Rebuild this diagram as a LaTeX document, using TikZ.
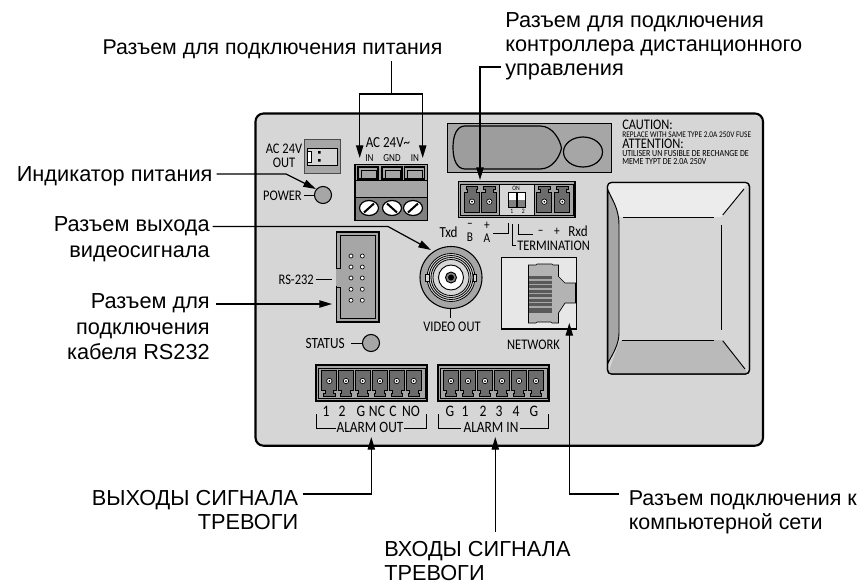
\documentclass[tikz,border=0pt]{standalone}
\usepackage{fontspec}
\setmainfont{Liberation Sans}
\newfontfamily\panelfont[FakeStretch=0.85]{Carlito}
\usetikzlibrary{arrows.meta,calc}
\definecolor{panel}{gray}{0.84}
\definecolor{midg}{gray}{0.65}
\definecolor{darkg}{gray}{0.5}
\tikzset{
  lbl/.style={font=\fontsize{16.3}{18}\selectfont, inner sep=0pt, align=left, text=black},
  lblr/.style={lbl, align=right},
  pt/.style={font=\panelfont\fontsize{#1}{#1}\selectfont, inner sep=0pt, text=black},
  pt/.default=11,
  conn/.style={line width=0.9pt, -{Triangle[length=9.5pt,width=5.5pt]}},
  plain/.style={line width=0.9pt},
}
% #1 x, #2 y of the pin's hole, #3 = 1 foot down, -1 foot up
\newcommand{\pinshape}[3]{%
  \begin{scope}[shift={(#1,#2)}]
    \fill[gray!115,draw=black,line width=0.7pt,yscale=#3] (-7.5,-10.7) -- (7.5,-10.7) -- (7.5,9) -- (4.3,9) -- (4.3,12.7) -- (5.7,12.7) -- (5.7,15.5) -- (-5.7,15.5) -- (-5.7,12.7) -- (-4.3,12.7) -- (-4.3,9) -- (-7.5,9) -- cycle;
    \fill[white,draw=black,line width=0.5pt] (0,0) circle (2.7);
    \fill[black] (0,0) circle (1);
  \end{scope}}
\newcommand{\screw}[3]{%
  \begin{scope}[shift={(#1,#2)}]
    \fill[white,draw=black,line width=0.9pt] (0,0) ellipse (9.5 and 7.5);
    \draw[line width=1.5pt] (-#3*5,4.5) -- (#3*5,-4.5);
  \end{scope}}
\begin{document}
\begin{tikzpicture}[x=0.75pt,y=-0.75pt]
\useasboundingbox (0,0) rectangle (861,586);
\fill[white] (0,0) rectangle (861,586);
% panel
\draw[fill=panel,line width=1.6pt,rounded corners=6pt] (255.5,113.5) rectangle (763,445.7);
% AC out
\draw[fill=midg,line width=0.5pt,draw=black!70] (304,139) rectangle (340,173);
\draw[fill=panel,line width=0.7pt] (307.5,148) rectangle (337,165);
\draw[fill=white,line width=0.5pt] (307.5,151) rectangle (311,162);
\fill (318,151) rectangle (320.5,153.5) (318,159) rectangle (320.5,161.5);
\node[pt=11,align=center] (acout) at (284,156) {AC 24V\\[-.5pt]OUT};
% power led
\node[circle,draw,fill=midg,line width=0.8pt,minimum size=12.8pt,inner sep=0pt] (pled) at (323,195) {};
\node[pt=11,anchor=east] (powt) at (302,195.5) {POWER};
\draw[line width=0.7pt] (304,195) -- (pled);
% terminal block
\draw[fill=midg,line width=1.3pt] (355,164.5) rectangle (427.5,220);
\fill[darkg] (355.5,197) rectangle (427,219.5);
\foreach \x in {368,392,414.5}{
  \draw[fill=midg,line width=.9pt] (\x-10,167) rectangle (\x+10,179);
  \draw[fill=darkg!70,line width=0.5pt] (\x-7,170) rectangle (\x+8,178.5);
}
\draw[line width=.7pt] (356,180) -- (427,180);
\draw[line width=.7pt] (356,197) -- (427,197);
\screw{369}{208}{1}\screw{392}{208}{-1}\screw{413}{208}{1}
\node[pt=11.5] (ac24) at (388,143) {AC 24V\textasciitilde};
\node[pt=8] (tin1) at (369.5,158) {IN};
\node[pt=8] (tgnd) at (392,158) {GND};
\node[pt=8] (tin2) at (415,158) {IN};
% fuse
\draw[fill=midg,line width=.6pt] (447.5,123) rectangle (611,172);
\draw[fill=midg!95!black,line width=.9pt] (465,126) -- (540,126) .. controls (553,126) and (560,140) .. (561.5,148) .. controls (560,156) and (553,169) .. (540,169) -- (465,169) .. controls (457,169) and (453,160) .. (453,147.5) .. controls (453,135) and (457,126) .. (465,126) -- cycle;
\draw[line width=.9pt] (583,152) ellipse (19.5 and 15);
% caution
\node[pt=11,anchor=west] (cau) at (622,125) {CAUTION:};
\node[pt=6.5,anchor=west] (cau2) at (622,135) {REPLACE WITH SAME TYPE 2.0A 250V FUSE};
\node[pt=11,anchor=west] (att) at (622,144) {ATTENTION:};
\node[pt=7,anchor=west] (att2) at (622,153.5) {UTILISER UN FUSIBLE DE RECHANGE DE};
\node[pt=7,anchor=west] (att3) at (622,162) {MEME TYPT DE 2.0A 250V};
% comm connector
\draw[fill=midg,line width=.8pt] (458.3,181.7) rectangle (575,217.3);
\draw[fill=panel,line width=.6pt] (499,184.7) rectangle (534.3,215);
\draw[line width=.7pt] (460.7,184.7) rectangle (573.3,215);
\pinshape{472}{201.7}{-1}\pinshape{489.3}{201.7}{-1}\pinshape{544.3}{201.7}{-1}\pinshape{562.3}{201.7}{-1}
\fill[white] (508.3,192) rectangle (516,200) (517,192) rectangle (525.7,200);
\fill[darkg] (508.3,200) rectangle (516,207) (517,200) rectangle (525.7,207);
\draw[line width=.4pt] (508.3,192) rectangle (516,207) (517,192) rectangle (525.7,207);
\node[pt=5] at (516,188) {ON};
\node[pt=5] at (511.7,211) {1};
\node[pt=5] at (523.3,211) {2};
% comm labels
\node[pt=11.5] (txd) at (448.5,232) {Txd};
\node[pt=10] (bl) at (470,237) {B};
\node[pt=10] (al) at (487,238) {A};
\node[pt=10] at (470,225) {–};
\node[pt=10] at (487,226) {+};
\draw[line width=.7pt] (493,233) -- (508,233) -- (508,223);
\draw[line width=.7pt] (512.7,224) -- (512.7,245) -- (516,245);
\draw[line width=.7pt] (518.7,224) -- (518.7,234) -- (533,234);
\node[pt=10] at (540.7,232) {–};
\node[pt=10] at (557,232) {+};
\node[pt=11.5] (rxd) at (578,231.5) {Rxd};
\node[pt=11,anchor=west] (term) at (517,245.5) {TERMINATION};
% bnc
\node[circle,draw,fill=midg,line width=.8pt,minimum size=46.5pt,inner sep=0pt] (bnc) at (451,277.5) {};
\draw[fill=panel,line width=.6pt] (451,277.5) circle (24);
\draw[line width=.6pt] (451,277.5) circle (22);
\draw[line width=.6pt] (451,277.5) circle (20);
\draw[fill=panel,line width=.6pt] (451,277.5) circle (18);
\draw[fill=white,line width=.7pt] (451,277.5) circle (12.5);
\draw[fill=darkg,line width=.7pt] (451,277.5) circle (5.5);
\fill (451,277.5) circle (3);
\draw[fill=panel,line width=.5pt] (425.5,274.5) rectangle (429,281);
\draw[fill=panel,line width=.5pt] (473,274.5) rectangle (476.5,281);
\draw[line width=.7pt] (450.5,309) -- (450.5,318);
\node[pt=11] (vout) at (452,327) {VIDEO OUT};
% network
\draw[fill=panel!60!white,line width=.9pt] (501.5,257.5) rectangle (576.5,329);
\draw[fill=midg!85!white,line width=.5pt] (528.5,265) -- (536,265) -- (537,264) -- (552,264) -- (553,265) -- (558.5,265) -- (558.5,276.5) -- (565,283) -- (575.5,283) -- (575.5,303) -- (565,303) -- (558.5,313) -- (558.5,323) -- (552,323) -- (551,322) -- (537,322) -- (536,323) -- (528.5,323) -- cycle;
\fill[darkg!70!black] (529,276) rectangle (552,313);
\foreach \y in {280,284.5,289,293.5,298,302.5,307}{\draw[midg,line width=.8pt] (529,\y) -- (552,\y);}
\node[pt=11] (netw) at (533.5,345) {NETWORK};
% rs232
\fill[midg] (336.7,232) rectangle (379,322);
\draw[line width=1pt] (336.7,232) rectangle (379,322);
\draw[line width=.7pt] (336.7,268) -- (340.7,268) -- (340.7,235) -- (375.5,235) -- (375.5,318) -- (340.7,318) -- (340.7,287) -- (336.7,287);
\draw[draw=midg,line width=1.3pt] (336.7,269) -- (336.7,286);
\foreach \y in {256,267,278,289.3,300.3}{\foreach \x in {351,362.3}{\draw[fill=white,line width=.5pt] (\x,\y) circle (2);}}
\coordinate (rsin) at (332,304);
\node[pt=11,anchor=east] (rst) at (314,280) {RS-232};
\draw[line width=.7pt] (316,279.5) -- (332,279.5);
% status
\node[circle,draw,fill=midg,line width=.8pt,minimum size=12.8pt,inner sep=0pt] (sled) at (371,343) {};
\node[pt=11.7,anchor=east] (stat) at (345,343) {STATUS};
\draw[line width=.7pt] (351,343) -- (sled);
% alarm blocks
\foreach \a/\b in {316/427,438/549}{
 \draw[fill=midg,line width=.9pt] (\a,365) rectangle (\b,401);
 \draw[line width=.5pt] (\a+2,368) rectangle (\b-2,398);
}
\foreach \x in {329.3,346,362.7,380,396.7,413.7,451,468,485,502,519,536}{\pinshape{\x}{381}{1}}
\foreach \x/\t in {326/1,342/2,361/G,377/NC,393/C,411/NO,450/G,465/1,483/2,499/3,516/4,534/G}{\node[pt=12] at (\x,411) {\t};}
\draw[line width=.7pt] (316.5,414) -- (316.5,428) -- (336,428);
\draw[line width=.7pt] (404,428) -- (426.5,428) -- (426.5,414);
\draw[line width=.7pt] (438.5,414) -- (438.5,428) -- (461,428);
\draw[line width=.7pt] (520,428) -- (548.5,428) -- (548.5,414);
\node[pt=11.8] (aout) at (370,427.5) {ALARM OUT};
\node[pt=11.8] (ain) at (491,427.5) {ALARM IN};
% fan
\draw[fill=panel,line width=.9pt,rounded corners=3pt] (607.5,182.5) rectangle (749.5,374);
\fill[gray!15,rounded corners=2pt] (608,183) -- (749,183) -- (745,186) -- (722,217) -- (619,217) -- (608,195) -- cycle;
\fill[gray!54,rounded corners=2pt] (608,373.5) -- (620,340) -- (722,340) -- (748,373.5) -- cycle;
\filldraw[fill=midg,draw=black,line width=.7pt] (608,190) .. controls (612,200) and (619,208) .. (619,225) -- (619,333) .. controls (619,345) and (612,355) .. (608,363) -- cycle;
\draw[line width=.9pt,rounded corners=3pt] (607.5,182.5) rectangle (749.5,374);
\draw[line width=.7pt] (623,217.5) -- (714,217.5);
\draw[line width=.7pt] (622,340) -- (714,340);
\draw[line width=.7pt] (721.7,225) -- (721.7,330);
\draw[line width=.7pt] (722.7,215) -- (744,189);
\draw[line width=.7pt] (722.7,340.7) -- (745,369);
% labels
\node[lbl,font=\fontsize{16}{18}\selectfont,anchor=center] (lpow) at (272.5,49) {Разъем для подключения питания};
\node[lbl,anchor=north west] (lrem) at (505,12) {Разъем для подключения\\контроллера дистанционного\\управления};
\node[lbl,anchor=base east] (lled) at (212.7,181.7) {Индикатор питания};
\node[lblr,anchor=north east] (lvid) at (210,216.7) {Разъем выхода\\[1pt]видеосигнала};
\node[lblr,anchor=north east] (lrs) at (210,293) {Разъем для\\[1.4pt]подключения\\[1.4pt]кабеля RS232};
\node[lblr,anchor=north east] (lao) at (298.5,490) {ВЫХОДЫ СИГНАЛА\\ТРЕВОГИ};
\node[lbl,anchor=north west] (lai) at (384,541.5) {ВХОДЫ СИГНАЛА\\ТРЕВОГИ};
\node[lbl,font=\fontsize{16.1}{18}\selectfont,anchor=north west] (lnet) at (628.5,490) {Разъем подключения к\\компьютерной сети};
% connectors
\coordinate (pj) at (391.7,94);
\coordinate (pa) at (359.7,158);
\coordinate (pb) at (422.7,158);
\coordinate (ptop) at (391.7,61);
\draw[plain] (ptop) -- (pj);
\draw[conn] (pj) -| (pa);
\draw[conn] (pj) -| (pb);
\coordinate (rc) at (480,67);
\coordinate (rt) at (480,180);
\coordinate (rs) at (501,67);
\draw[conn] (rs) -- (rc) -- (rt);
\coordinate (a1) at (216.7,174);\coordinate (a2) at (286,174);\coordinate (a3) at (316,189);
\draw[conn] (a1) -- (a2) -- (a3);
\coordinate (b1) at (212.7,226.5);\coordinate (b2) at (388,226.5);\coordinate (b3) at (431,250);
\draw[conn] (b1) -- (b2) -- (b3);
\coordinate (c1) at (216,304);
\draw[conn] (c1) -- (rsin);
\coordinate (d1) at (303,494);\coordinate (d2) at (371.3,494);\coordinate (d3) at (371.3,437);
\draw[conn] (d1) -- (d2) -- (d3);
\coordinate (e1) at (495.3,532);\coordinate (e3) at (495.3,437);
\draw[conn] (e1) -- (e3);
\coordinate (f1) at (619,494);\coordinate (f2) at (569.3,494);\coordinate (f3) at (569.3,323);
\draw[conn] (f1) -- (f2) -- (f3);
\end{tikzpicture}
\end{document}
